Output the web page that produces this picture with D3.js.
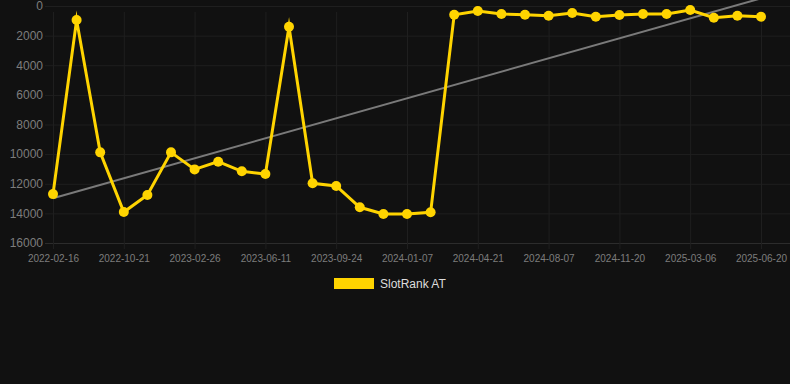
<!DOCTYPE html>
<html>
<head>
  <meta charset="utf-8">
  <script src="https://cdn.jsdelivr.net/npm/d3@7/dist/d3.min.js"></script>
  <style>
    html, body { margin: 0; padding: 0; background: #111111; }
    svg { display: block; font-family: "Liberation Sans", Arial, sans-serif; }
  </style>
</head>
<body>
  <svg width="790" height="384"></svg>

  <script>
    // dates (every third one is shown on the axis)
    const dates = [
      "2022-02-16", "2022-05-01", "2022-08-01", "2022-10-21", "2022-11-30", "2023-01-13",
      "2023-02-26", "2023-03-31", "2023-05-07", "2023-06-11", "2023-07-16", "2023-08-20",
      "2023-09-24", "2023-10-29", "2023-12-03", "2024-01-07", "2024-02-11", "2024-03-17",
      "2024-04-21", "2024-05-26", "2024-07-02", "2024-08-07", "2024-09-11", "2024-10-16",
      "2024-11-20", "2024-12-25", "2025-01-29", "2025-03-06", "2025-04-10", "2025-05-15",
      "2025-06-20"
    ];
    const rank = [
      12700, 950, 9880, 13910, 12760, 9880,
      11030, 10510, 11160, 11340, 1400, 11970,
      12150, 13590, 14040, 14040, 13930, 590,
      340, 540, 590, 655, 470, 720,
      610, 540, 540, 270, 790, 655,
      720
    ];
    const xTickLabels = [
      "2022-02-16", "2022-10-21", "2023-02-26", "2023-06-11", "2023-09-24", "2024-01-07",
      "2024-04-21", "2024-08-07", "2024-11-20", "2025-03-06", "2025-06-20"
    ];
    const yTicks = [0, 2000, 4000, 6000, 8000, 10000, 12000, 14000, 16000];
    const seriesName = "SlotRank AT";

    const data = dates.map((d, i) => ({ date: d, v: rank[i], i: i }));

    const svg = d3.select("svg");

    const x = d3.scalePoint()
      .domain(dates)
      .range([53, 761]);

    const y = d3.scaleLinear()
      .domain([0, 16000])
      .range([6, 243]);

    // horizontal grid + y labels
    const yAxis = svg.append("g")
      .attr("transform", "translate(45,0)")
      .call(d3.axisLeft(y).tickValues(yTicks).tickFormat(d3.format("d")).tickSize(0).tickPadding(2));
    yAxis.select(".domain").remove();
    yAxis.selectAll("text")
      .attr("fill", "#7d7d7d")
      .style("font-size", "12px");
    yAxis.selectAll(".tick").append("line")
      .attr("x1", 0).attr("x2", 745)
      .attr("stroke", d => d === 16000 ? "#2c2c2c" : "#1f1f1f")
      .attr("stroke-width", 1);

    // vertical grid + x labels
    const xAxis = svg.append("g")
      .attr("transform", "translate(0,243)")
      .call(d3.axisBottom(x).tickValues(xTickLabels).tickSize(0).tickPadding(12));
    xAxis.select(".domain").remove();
    xAxis.selectAll("text")
      .attr("fill", "#7d7d7d")
      .style("font-size", "10px");
    xAxis.selectAll(".tick").append("line")
      .attr("y1", 6).attr("y2", 6 - 243 + 6)
      .attr("stroke", "#1f1f1f")
      .attr("stroke-width", 1);

    // trend line (least squares over index)
    const n = data.length;
    const mx = d3.mean(data, d => d.i);
    const my = d3.mean(data, d => d.v);
    const slope = d3.sum(data, d => (d.i - mx) * (d.v - my)) / d3.sum(data, d => (d.i - mx) * (d.i - mx));
    const icpt = my - slope * mx;
    const trend = [data[0], data[n - 1]].map(d => ({ date: d.date, v: icpt + slope * d.i }));

    svg.append("path")
      .datum(trend)
      .attr("fill", "none")
      .attr("stroke", "#7a7a7a")
      .attr("stroke-width", 2)
      .attr("d", d3.line().x(d => x(d.date)).y(d => y(d.v)));

    // main series
    svg.append("path")
      .datum(data)
      .attr("fill", "none")
      .attr("stroke", "#ffd400")
      .attr("stroke-width", 3)
      .attr("stroke-linejoin", "miter")
      .attr("stroke-miterlimit", 10)
      .attr("d", d3.line().x(d => x(d.date)).y(d => y(d.v)));

    svg.append("g")
      .selectAll("circle")
      .data(data)
      .join("circle")
      .attr("cx", d => x(d.date))
      .attr("cy", d => y(d.v))
      .attr("r", 5)
      .attr("fill", "#ffd400");

    // legend
    const legend = svg.append("g").attr("transform", "translate(334,278)");
    legend.append("rect")
      .attr("width", 40).attr("height", 11)
      .attr("fill", "#ffd400");
    legend.append("text")
      .attr("x", 46).attr("y", 6)
      .attr("dy", "0.35em")
      .attr("fill", "#dddddd")
      .style("font-size", "12px")
      .text(seriesName);
  </script>
</body>
</html>
